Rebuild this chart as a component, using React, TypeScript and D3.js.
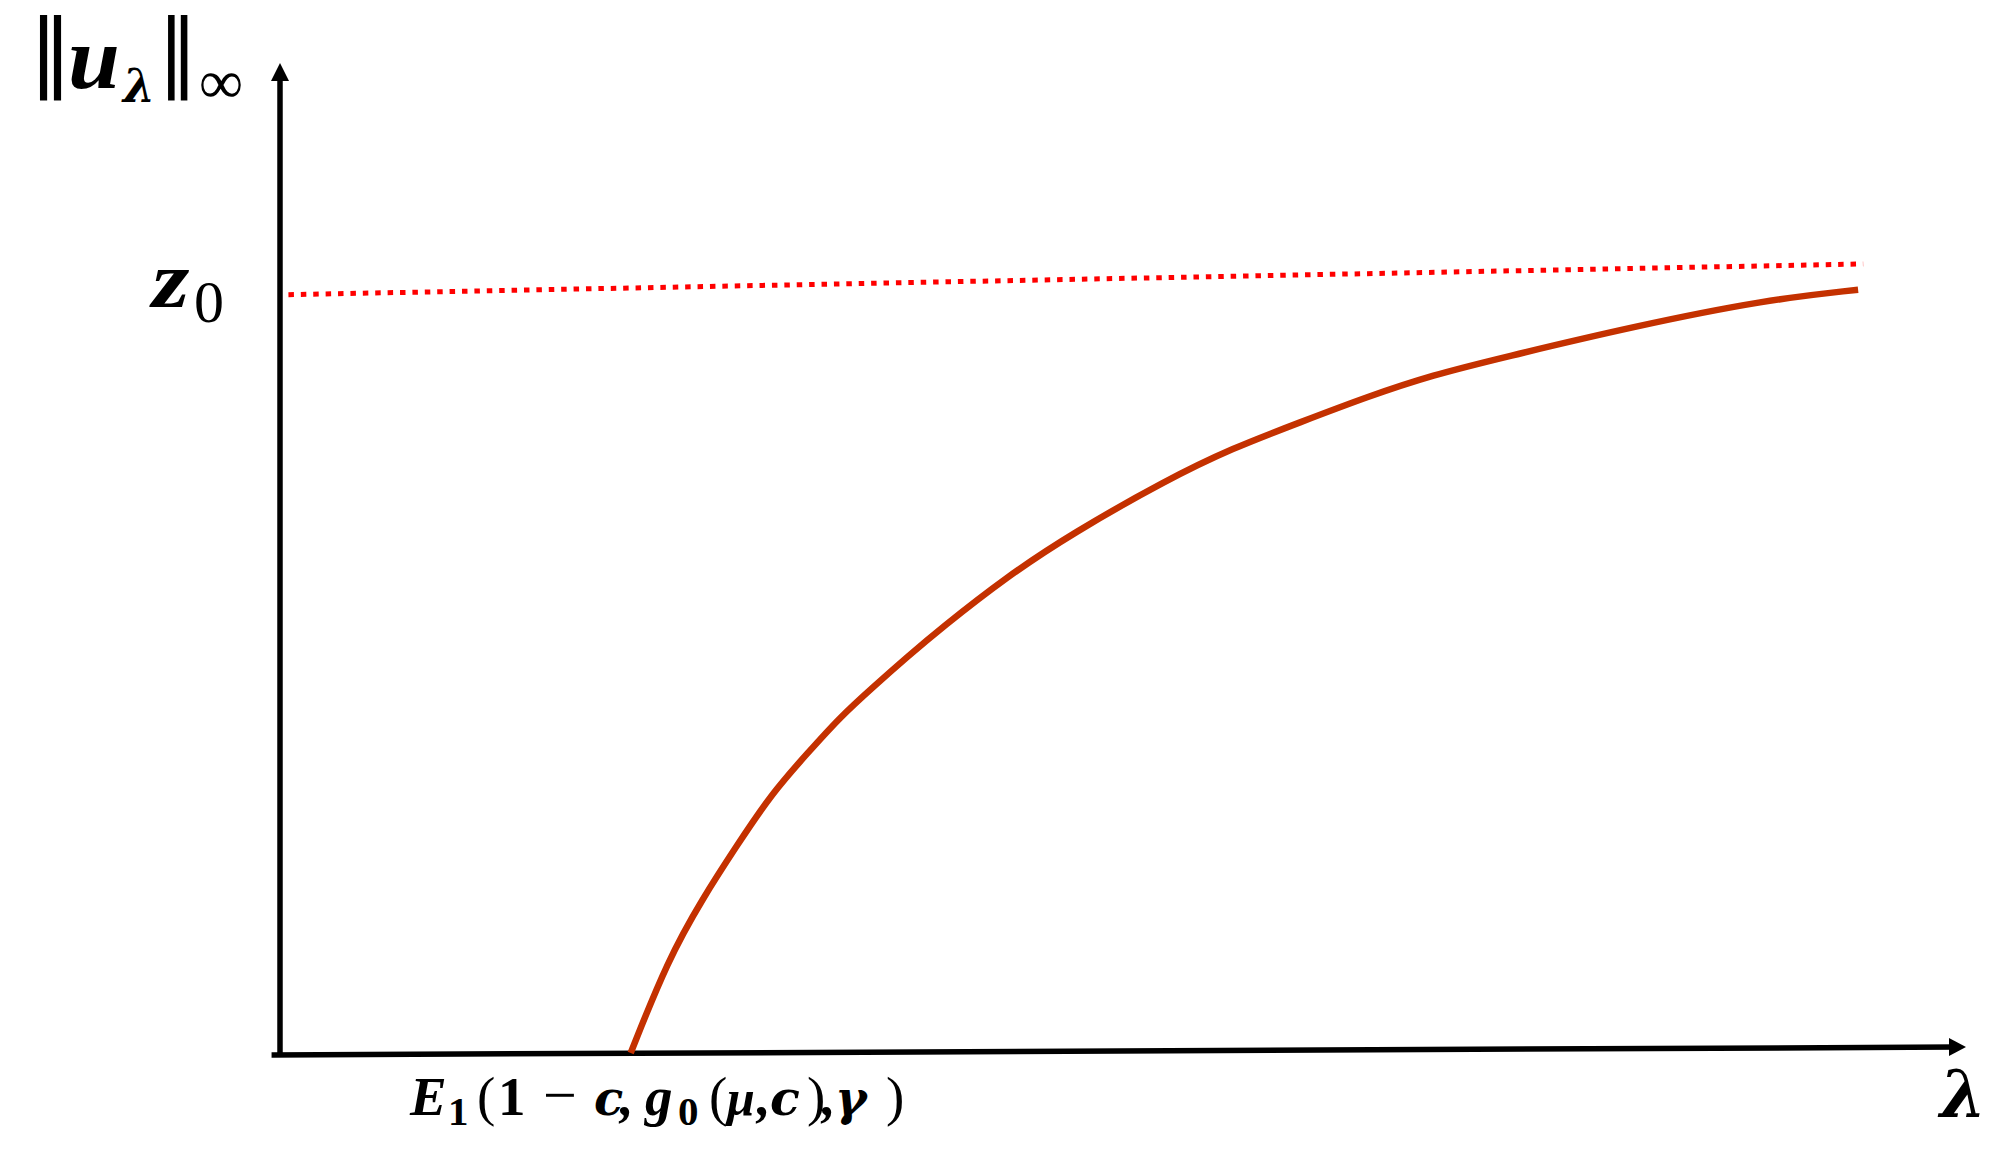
import React from 'react';
import * as d3 from 'd3';

// curve ||u_lambda||_inf against lambda (arbitrary units 0..100)
const lambdaVals = [20.8, 23.0, 25.1, 27.0, 29.2, 31.3, 33.2, 35.2, 37.2, 39.2, 43.1, 47.0, 52.6, 56.5, 60.5, 64.5, 68.4, 72.4, 80.3, 88.2, 93.6];
const normVals = [0, 9.4, 15.7, 20.7, 26.3, 30.3, 33.9, 37.0, 40.0, 42.9, 48.1, 52.5, 57.9, 61.1, 63.7, 66.3, 68.5, 70.2, 73.4, 76.1, 77.1];

// the z0 level (hand drawn, slightly tilted)
const z0X = [0.5, 93.9];
const z0Y = [76.6, 79.7];

// axes, also slightly tilted as in the sketch
const xAxisX = [-0.5, 100];
const xAxisY = [-0.2, 0.6];
const yAxisX = [0, 0];
const yAxisY = [0, 100];

const W = 2012;
const H = 1161;
const mathFont = '"Liberation Serif", serif';
const greekFont = '"DejaVu Serif", serif';
const barFont = '"DejaVu Sans", sans-serif';

export default function App() {
  const x = d3.scaleLinear().domain([0, 100]).range([280, 1966]);
  const y = d3.scaleLinear().domain([0, 100]).range([1053, 63]);

  const curve = d3.line<number>()
    .x((_, i) => x(lambdaVals[i]))
    .y((d) => y(d))
    .curve(d3.curveBasis);

  const seg = (xs: number[], ys: number[]) =>
    d3.line<number>().x((_, i) => x(xs[i])).y((d) => y(d))(ys) || '';

  // arrow heads at the axis ends
  const xTip = [x(xAxisX[1]), y(xAxisY[1])];
  const yTip = [x(yAxisX[1]), y(yAxisY[1])];
  const xHead = `M${xTip[0]},${xTip[1]} L${xTip[0] - 17},${xTip[1] - 9} L${xTip[0] - 17},${xTip[1] + 9} Z`;
  const yHead = `M${yTip[0]},${yTip[1]} L${yTip[0] - 9},${yTip[1] + 18} L${yTip[0] + 9},${yTip[1] + 18} Z`;

  const bi = { fontWeight: 'bold', fontStyle: 'italic' } as const;

  return (
    <svg width={W} height={H} style={{ position: 'absolute', left: 0, top: 0, background: '#fff' }}>
      <rect width={W} height={H} fill="#fff" />

      {/* axes */}
      <path d={seg(xAxisX.map((v, i) => (i === 1 ? v - 0.6 : v)), xAxisY)} stroke="#000" strokeWidth={5.5} fill="none" />
      <path d={xHead} fill="#000" />
      <path d={seg(yAxisX, yAxisY.map((v, i) => (i === 1 ? v - 1 : v)))} stroke="#000" strokeWidth={5.5} fill="none" />
      <path d={yHead} fill="#000" />

      {/* z0 dotted level */}
      <path d={seg(z0X, z0Y)} stroke="#ff0000" strokeWidth={5} strokeDasharray="5.5 6.9" fill="none" />

      {/* curve */}
      <path d={curve(normVals) || ''} stroke="#c43100" strokeWidth={6.5} fill="none" strokeLinecap="butt" />

      {/* y label ||u_lambda||_inf */}
      <g fontFamily={mathFont} fill="#000">
        <text transform="translate(29,80) scale(1.2,1.18)" fontFamily={barFont} fontSize={72}>‖</text>
        <text transform="translate(68,88) scale(1.06,1)" fontSize={88} {...bi}>u</text>
        <text x={123} y={102} fontFamily={greekFont} fontSize={46} {...bi}>λ</text>
        <text transform="translate(158,80) scale(1.1,1.18)" fontFamily={barFont} fontSize={72}>‖</text>
        <text x={199} y={103} fontSize={62}>∞</text>
      </g>

      {/* z0 label */}
      <g fontFamily={mathFont} fill="#000">
        <text transform="translate(152,307) scale(1.2,1)" fontSize={80} {...bi}>z</text>
        <text x={194} y={322} fontSize={60}>0</text>
      </g>

      {/* x label lambda */}
      <text x={1940} y={1117} fontFamily={greekFont} fontSize={66} {...bi}>λ</text>

      {/* threshold label E1(1 - c, g0(mu, c), gamma) */}
      <text fontFamily={mathFont} fontSize={55} fill="#000" y={1115}>
        <tspan x={410} {...bi}>E</tspan>
        <tspan x={448} y={1125} fontSize={41} fontWeight="bold">1</tspan>
        <tspan x={477} y={1115}>(</tspan>
        <tspan x={498} fontWeight="bold">1</tspan>
        <tspan x={543} fontSize={60}>−</tspan>
        <tspan x={594} fontFamily={greekFont} fontSize={48} {...bi}>c</tspan>
        <tspan x={620} {...bi}>,</tspan>
        <tspan x={645} {...bi}>g</tspan>
        <tspan x={678} y={1125} fontSize={41} fontWeight="bold">0</tspan>
        <tspan x={709} y={1115}>(</tspan>
        <tspan x={727} fontSize={50} {...bi}>μ</tspan>
        <tspan x={757} {...bi}>,</tspan>
        <tspan x={770} fontFamily={greekFont} fontSize={49} {...bi}>c</tspan>
        <tspan x={807}>)</tspan>
        <tspan x={822} {...bi}>,</tspan>
        <tspan x={835} fontFamily={greekFont} fontSize={48} {...bi}>γ</tspan>
        <tspan x={886}>)</tspan>
      </text>
    </svg>
  );
}
